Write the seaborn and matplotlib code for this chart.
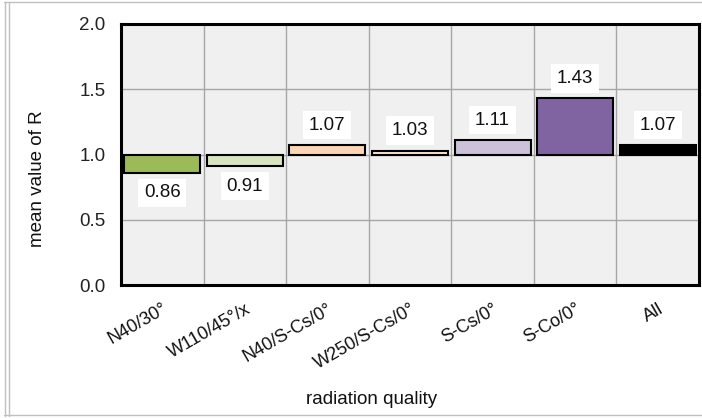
import matplotlib
matplotlib.use("Agg")
import matplotlib.pyplot as plt
import seaborn as sns
import pandas as pd
from matplotlib.lines import Line2D
from matplotlib.ticker import FixedLocator

# Data
categories = ['N40/30°', 'W110/45°/x', 'N40/S-Cs/0°', 'W250/S-Cs/0°', 'S-Cs/0°', 'S-Co/0°', 'All']
mean_r = [0.86, 0.91, 1.07, 1.03, 1.11, 1.43, 1.07]
bar_colors = ['#9bbb59', '#d7e4bd', '#fcd5b5', '#fde3cc', '#ccc1da', '#8064a2', '#000000']
baseline = 1.0

df = pd.DataFrame({'quality': categories, 'R': mean_r})
df['dev'] = df['R'] - baseline

sns.set_style('white')
plt.rcParams['font.family'] = ['Liberation Sans', 'DejaVu Sans']

fig = plt.figure(figsize=(7.02, 4.18), dpi=100)
ax = fig.add_axes([121 / 702, 1 - 285 / 418, 578 / 702, 261 / 418])
ax.set_facecolor('#f0f0f0')

sns.barplot(data=df, x='quality', y='dev', hue='quality', palette=bar_colors,
            saturation=1, legend=False, bottom=baseline, width=0.92,
            edgecolor='black', linewidth=1.5, ax=ax, zorder=3)

ax.set_ylim(0, 2.0)
ax.set_xlim(-0.5, len(categories) - 0.5)
ax.set_yticks([0, 0.5, 1.0, 1.5, 2.0])
ax.set_yticklabels(['0.0', '0.5', '1.0', '1.5', '2.0'])

# grid: horizontal at major y ticks, vertical between categories
ax.yaxis.grid(True, color='#a6a6a6', linewidth=1, zorder=0)
ax.xaxis.set_minor_locator(FixedLocator([i + 0.5 for i in range(len(categories) - 1)]))
ax.xaxis.grid(True, which='minor', color='#a6a6a6', linewidth=1, zorder=0)
ax.xaxis.grid(False, which='major')
ax.set_axisbelow(True)

for s in ax.spines.values():
    s.set_visible(True)
    s.set_color('black')
    s.set_linewidth(2.2)

ax.tick_params(axis='y', length=5, width=1, color='#808080', labelsize=13.5,
               labelcolor='#222222', pad=6)
ax.tick_params(axis='x', which='both', length=0, labelsize=13, labelcolor='#111111', pad=11)
plt.setp(ax.get_xticklabels(), rotation=30, ha='right', rotation_mode='anchor')

ax.set_xlabel('')
ax.set_ylabel('')
fig.text(37 / 702, 1 - 179 / 418, 'mean value of R', rotation=90, ha='center', va='center',
         fontsize=13.5, color='#111111')
fig.text(372 / 702, 1 - 400 / 418, 'radiation quality', ha='center', va='center',
         fontsize=13.5, color='#111111')

# value labels in white boxes
for i, v in enumerate(mean_r):
    off = 20 if v >= baseline else -20
    ax.annotate(f'{v:.2f}', xy=(i, v), xytext=(0, off), textcoords='offset pixels',
                ha='center', va='center', fontsize=13.5, color='#111111', zorder=5,
                bbox=dict(boxstyle='square,pad=0.3', facecolor='white', edgecolor='none'))

# outer frame lines
for x in (4.5 / 702, 8.5 / 702):
    fig.add_artist(Line2D([x, x], [0.005, 0.996], color='#c0c0c0', linewidth=1))
fig.add_artist(Line2D([0.006, 1.0], [1 - 1.5 / 418] * 2, color='#c0c0c0', linewidth=1))
fig.add_artist(Line2D([0.006, 1.0], [1 - 415 / 418] * 2, color='#c0c0c0', linewidth=1))

fig.savefig('out.png', dpi=100)
